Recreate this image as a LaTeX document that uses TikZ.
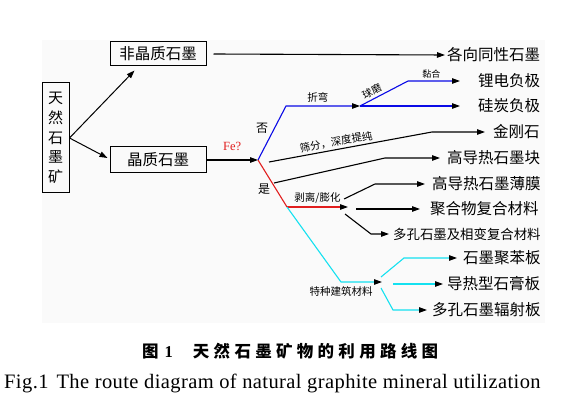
\documentclass[tikz,border=0pt]{standalone}
\usepackage{fontspec}
\setmainfont{Liberation Serif}
\newfontfamily\cjk{Noto Sans CJK SC}
\usetikzlibrary{arrows.meta}
\definecolor{routeblue}{RGB}{10,10,230}
\definecolor{routered}{RGB}{225,30,30}
\definecolor{routecyan}{RGB}{20,225,240}
\tikzset{
  box/.style = {draw=black, line width=1pt, inner sep=0pt, align=center, font=\cjk\fontsize{15.5}{15.5}\selectfont},
  goal/.style = {anchor=west, inner sep=0pt, font=\cjk\fontsize{15.5}{15.5}\selectfont},
  smallgoal/.style = {goal, font=\cjk\fontsize{13.4}{13.4}\selectfont},
  tag/.style = {inner sep=0pt, font=\cjk\fontsize{10.5}{10.5}\selectfont},
  route/.style = {line width=1.1pt},
  tip/.style = {route, -{Triangle[length=8pt,width=5.5pt,color=black]}},
}
\begin{document}
\begin{tikzpicture}[x=1pt,y=-1pt]
\useasboundingbox (0,0) rectangle (571,401);
\fill[black!2] (42,40) rectangle (545,323);
% boxes on the left
\node [box, minimum width=27pt, minimum height=110pt, font=\cjk\fontsize{15}{19.7}\selectfont] (mine) at (55.5,138) {天\\然\\石\\墨\\矿};
\node [box, minimum width=96pt, minimum height=24pt] (amorph) at (158,54) {非晶质石墨};
\node [box, minimum width=96pt, minimum height=26pt] (cryst) at (158,160) {晶质石墨};
% end products
\node [goal] (iso) at (447,55) {各向同性石墨};
\node [goal] (li) at (478,81) {锂电负极};
\node [goal] (si) at (478,106) {硅炭负极};
\node [goal] (dia) at (493,132) {金刚石};
\node [goal] (block) at (447,158) {高导热石墨块};
\node [goal] (film) at (432,184) {高导热石墨薄膜};
\node [goal] (poly) at (430,209) {聚合物复合材料};
\node [smallgoal] (pcm) at (393,234) {多孔石墨及相变复合材料};
\node [goal] (eps) at (463,258) {石墨聚苯板};
\node [goal] (gyp) at (447,284) {导热型石膏板};
\node [goal] (rad) at (432,310) {多孔石墨辐射板};
% branch points
\coordinate (fork) at (258,160);
\coordinate (bend) at (360,106);
\coordinate (split) at (287,207);
\coordinate (expand) at (348,207);
\coordinate (build) at (382,282);

\draw [tip, line width=1pt] (mine.east) -- ([xshift=25pt,yshift=-4pt]amorph.south west);
\draw [tip, line width=1pt] (mine.east) -- ([xshift=-2pt,yshift=2pt]cryst.west);
\draw [tip] ([xshift=7pt]amorph.east) -- ([xshift=-2pt]iso.west);
\draw [tip] (cryst.east) -- (fork)
  node [pos=0.5, above=5pt, text=routered, font=\fontsize{12.5}{12.5}\selectfont] (fe) {Fe?};
% not graphitic iron
\draw [tip, routeblue] (fork) -- (286,106) -- (bend)
  node [tag, pos=0.43, above=3pt, text=black] (bendtag) {折弯};
\node [tag, font=\cjk\fontsize{12}{12}\selectfont] (no) at (262,128) {否};
\draw [tip, routeblue] (bend) -- ([xshift=-18pt]si.west);
\draw [tip, routeblue] (bend) -- (408,81) node [tag, pos=0.32, above=2.5pt, sloped, text=black, font=\cjk\fontsize{10}{10}\selectfont] (ball) {球磨}
  -- ([xshift=-18pt]li.west) node [tag, pos=0.45, above=2pt, text=black, font=\cjk\fontsize{9}{9}\selectfont] (bond) {黏合};
\draw [tip] (269,162) -- (432,132) node [tag, pos=0.42, above=2pt, sloped] (purify) {筛分，深度提纯}
  -- ([xshift=-8pt]dia.west);
\draw [tip] (274,183) -- (385,158) -- ([xshift=-7pt]block.west);
% graphitic iron
\node [tag, font=\cjk\fontsize{12}{12}\selectfont] (yes) at (264,189) {是};
\draw [route, routered] (fork) -- (split);
\draw [tip, routered] (split) -- (expand)
  node [tag, pos=0.5, above=3pt, text=black] (exf) {剥离/膨化};
\draw [tip] (344,199) -- (375,184) -- ([xshift=-7pt]film.west);
\draw [tip] (356,209) -- ([xshift=-10pt]poly.west);
\draw [tip] (345,214) -- (371,234) -- ([xshift=-4pt]pcm.west);
\draw [tip, routecyan] (split) -- (341,282) -- (build);
\node [tag] (spec) at (341,291) {特种建筑材料};
\draw [tip, routecyan] (381,277) -- (404,258) -- ([xshift=-6pt]eps.west);
\draw [tip, routecyan] (393,284) -- ([xshift=-4pt]gyp.west);
\draw [tip, routecyan] (381,288) -- (393,310) -- ([xshift=-5pt]rad.west);
% caption
\node [anchor=west, inner sep=0pt, font=\cjk\bfseries\fontsize{16.5}{16.5}\selectfont] (cap) at (142,351)
  {图\hspace{6pt}{\rmfamily 1}\hspace{20pt}{\addfontfeature{LetterSpace=26}天然石墨矿物的利用路线图}};
\node [anchor=west, inner sep=0pt, font=\fontsize{20.5}{20.5}\selectfont] (capen) at (4,383)
  {\addfontfeature{LetterSpace=2}Fig.1\hspace{8pt}The route diagram of natural graphite mineral utilization};
\end{tikzpicture}
\end{document}
